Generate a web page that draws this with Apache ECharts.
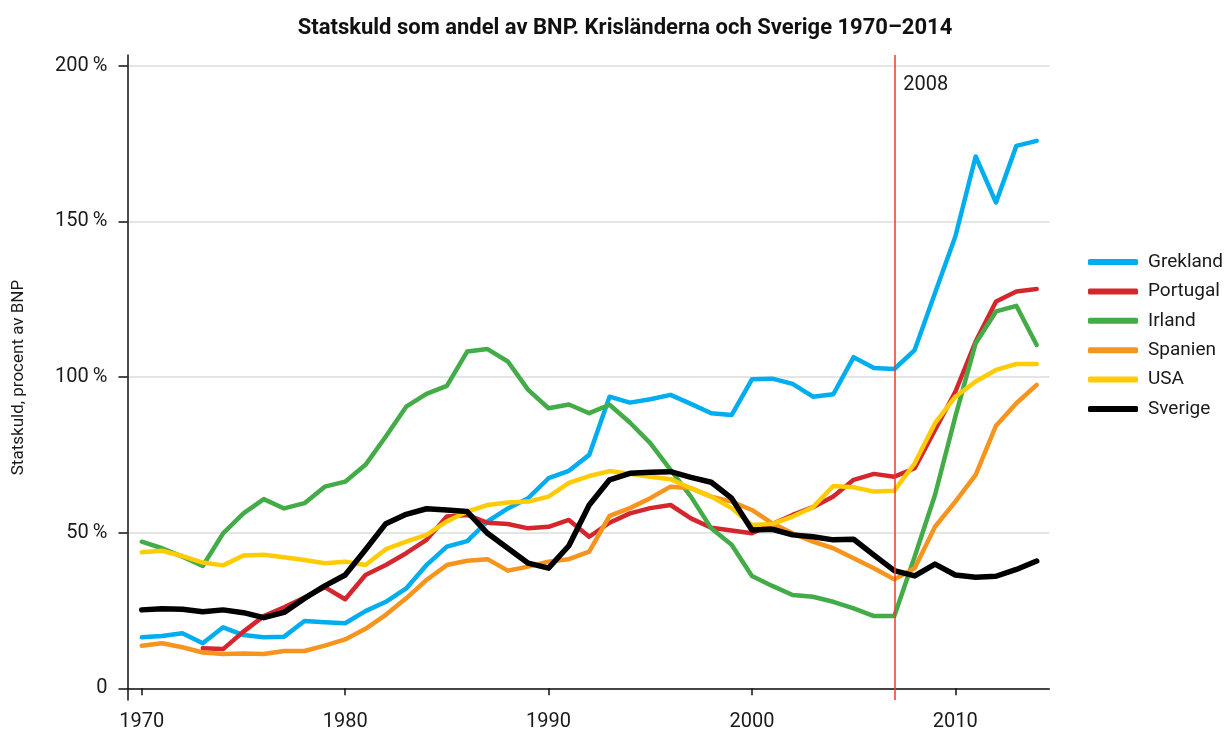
<!DOCTYPE html>
<html>
<head>
<meta charset="utf-8">
<script src="https://cdn.jsdelivr.net/npm/echarts@6/dist/echarts.min.js"></script>
<style>
  html, body { margin: 0; padding: 0; background: #fff; }
  #chart { width: 1226px; height: 734px; }
</style>
</head>
<body>
<div id="chart"></div>
<script>
  const years = []
  for (let y = 1970; y <= 2014; y++) years.push(y)

  const xTicks = [1970, 1980, 1990, 2000, 2010]
  const yTicks = [0, 50, 100, 150, 200]

  // Statskuld, procent av BNP
  const grekland = [16.4, 16.8, 17.7, 14.5, 19.6, 17.1, 16.4, 16.6, 21.6, 21.2,
    20.9, 24.8, 27.8, 32.1, 39.6, 45.5, 47.3, 53.6, 57.8, 61.1,
    67.5, 69.9, 75.0, 93.7, 91.8, 92.9, 94.3, 91.4, 88.4, 87.8,
    99.3, 99.5, 97.8, 93.7, 94.5, 106.4, 102.9, 102.6, 108.7, 127.0,
    145.2, 170.9, 156.1, 174.3, 175.9]
  const portugal = [null, null, null, 12.9, 12.6, 18.2, 23.2, 26.0, 29.2, 32.5,
    28.6, 36.4, 39.6, 43.4, 47.7, 55.2, 55.7, 53.2, 52.8, 51.4,
    51.9, 54.1, 48.7, 53.2, 56.2, 57.9, 58.9, 54.6, 51.6, 50.7,
    49.8, 52.8, 55.7, 58.2, 61.6, 67.0, 68.9, 68.0, 70.7, 83.0,
    95.3, 111.4, 124.3, 127.5, 128.3]
  const irland = [47.1, 45.0, 42.3, 39.3, 49.8, 56.2, 60.8, 57.8, 59.5, 64.8,
    66.4, 71.8, 80.9, 90.5, 94.6, 97.2, 108.2, 109.0, 105.0, 95.9,
    90.0, 91.2, 88.4, 91.1, 85.4, 78.8, 70.2, 61.6, 51.4, 46.1,
    36.1, 32.9, 30.0, 29.4, 27.8, 25.7, 23.2, 23.2, 42.3, 62.1,
    87.3, 110.9, 121.1, 122.9, 110.3]
  const spanien = [13.7, 14.5, 13.2, 11.5, 11.0, 11.2, 11.0, 12.0, 12.0, 13.7,
    15.7, 19.1, 23.6, 28.9, 34.8, 39.6, 41.0, 41.5, 37.8, 39.1,
    40.7, 41.5, 43.9, 55.4, 57.9, 61.1, 64.8, 64.3, 61.6, 60.0,
    57.3, 53.0, 49.8, 47.1, 45.0, 41.8, 38.6, 35.0, 38.6, 51.9,
    60.0, 68.6, 84.4, 91.6, 97.5]
  const usa = [43.7, 44.2, 42.5, 40.4, 39.5, 42.7, 42.9, 42.1, 41.2, 40.2,
    40.7, 39.6, 44.7, 47.1, 49.3, 53.6, 56.8, 58.9, 59.7, 60.0,
    61.6, 66.0, 68.2, 69.8, 68.9, 68.0, 67.2, 64.3, 61.6, 57.9,
    52.5, 52.8, 55.2, 58.2, 65.0, 64.6, 63.2, 63.5, 72.3, 85.2,
    93.7, 98.6, 102.3, 104.2, 104.2]
  const sverige = [25.2, 25.6, 25.4, 24.6, 25.2, 24.3, 22.7, 24.4, 28.9, 32.9,
    36.4, 44.5, 52.9, 55.9, 57.7, 57.3, 56.8, 49.8, 45.0, 40.2,
    38.6, 45.8, 58.9, 67.0, 69.1, 69.4, 69.6, 67.8, 66.2, 61.1,
    50.9, 51.1, 49.3, 48.7, 47.7, 47.9, 42.8, 37.8, 36.1, 39.9,
    36.4, 35.7, 36.0, 38.2, 40.9]

  const crisisYear = 2007
  const crisisLabel = '2008'
  const crisisLabelLevel = 194

  const countries = [
    { name: 'Grekland', values: grekland, color: '#00aeef', width: 4.5 },
    { name: 'Portugal', values: portugal, color: '#d5262d', width: 4.5 },
    { name: 'Irland', values: irland, color: '#43ab47', width: 4.5 },
    { name: 'Spanien', values: spanien, color: '#f7941d', width: 4.5 },
    { name: 'USA', values: usa, color: '#ffcb05', width: 4.5 },
    { name: 'Sverige', values: sverige, color: '#000000', width: 5.5 },
  ]

  const font = 'Roboto, "Noto Sans", sans-serif'
  const chart = echarts.init(document.getElementById('chart'), null, { renderer: 'canvas' })

  const series = countries.map(c => ({
    name: c.name,
    type: 'line',
    data: years.map((y, i) => [y, c.values[i]]),
    showSymbol: false,
    connectNulls: false,
    lineStyle: { color: c.color, width: c.width, join: 'round', cap: 'round' },
    itemStyle: { color: c.color },
    z: c.name === 'Sverige' ? 4 : 3,
  }))

  // 2008-linjen
  series.push({
    name: 'kris',
    type: 'scatter',
    data: [[crisisYear, crisisLabelLevel]],
    symbolSize: 0,
    silent: true,
    itemStyle: { opacity: 1, color: '#1a1a1a' },
    label: {
      show: true, position: 'right', distance: 9, formatter: crisisLabel,
      color: '#1a1a1a', opacity: 1, fontSize: 20, fontFamily: font,
    },
    markLine: {
      silent: true, symbol: 'none',
      lineStyle: { color: '#ee3a2c', width: 1.5, type: 'solid', opacity: 1 },
      label: { show: false },
      data: [{ xAxis: crisisYear }],
    },
    z: 2,
  })

  chart.setOption({
    animation: false,
    backgroundColor: '#fff',
    title: {
      text: 'Statskuld som andel av BNP. Krisländerna och Sverige 1970–2014',
      left: 620, top: 12, textAlign: 'center',
      textStyle: { fontFamily: font, fontSize: 22, fontWeight: 'bold', color: '#111' },
    },
    grid: { left: 127.5, right: 176.7, top: 55, bottom: 34, containLabel: false, outerBoundsMode: 'none' },
    legend: {
      orient: 'vertical', left: 1083, top: 247,
      data: countries.map(c => c.name),
      icon: 'roundRect', itemWidth: 50, itemHeight: 6, itemGap: 9.4,
      textStyle: { fontFamily: font, fontSize: 19, color: '#1a1a1a', lineHeight: 20, padding: [0, 0, 0, 5] },
    },
    xAxis: {
      type: 'value', min: 1969.3, max: 2014.62,
      axisLine: { show: true, lineStyle: { color: '#111', width: 1.5 } },
      axisTick: { show: true, length: 7, lineStyle: { color: '#111', width: 1.5 }, customValues: xTicks },
      axisLabel: {
        customValues: xTicks, margin: 12, fontFamily: font, fontSize: 20, color: '#1a1a1a',
        formatter: v => String(v),
      },
      splitLine: { show: false },
    },
    yAxis: {
      type: 'value', min: -3.76, max: 203.5,
      name: 'Statskuld, procent av BNP', nameLocation: 'middle', nameRotate: 90, nameGap: 100,
      nameTextStyle: { fontFamily: font, fontSize: 17, color: '#1a1a1a' },
      axisLine: { show: true, lineStyle: { color: '#111', width: 1.5 } },
      axisTick: { show: true, length: 9, lineStyle: { color: '#111', width: 1.5 }, customValues: yTicks },
      axisLabel: {
        customValues: yTicks, margin: 20, fontFamily: font, fontSize: 20, color: '#1a1a1a',
        formatter: v => v === 0 ? '0' : v + '\u2009%',
      },
      splitLine: { show: true, lineStyle: { color: '#dcdcdc', width: 1.5 } },
    },
    series,
  })
</script>
</body>
</html>
